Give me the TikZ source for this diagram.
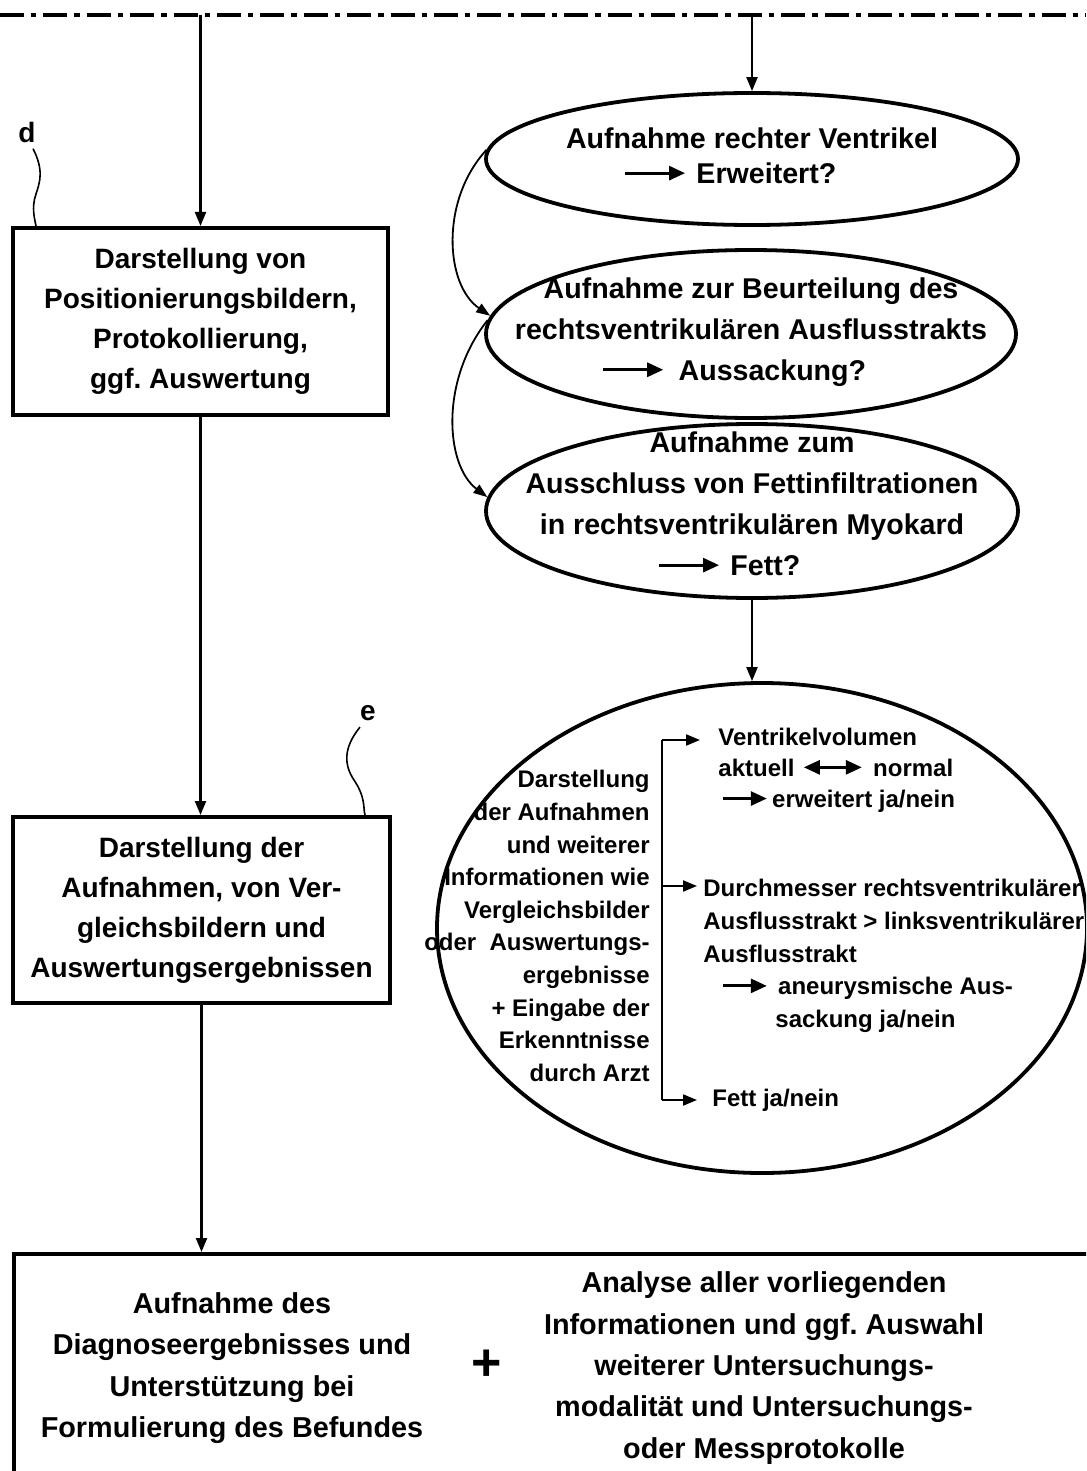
\documentclass[tikz,border=0pt]{standalone}
\usepackage{fontspec}
\setmainfont{Liberation Sans}
\usetikzlibrary{arrows.meta,shapes.geometric}

\newcommand{\pfeilr}[1][22pt]{\tikz[baseline=-0.7ex]\draw[line width=1.4pt,-{Triangle[length=8pt,width=7pt]}] (0,0) -- (#1,0);}
\newcommand{\pfeillr}{\tikz[baseline=-0.7ex]\draw[line width=1.4pt,{Triangle[length=8pt,width=7pt]}-{Triangle[length=8pt,width=7pt]}] (0,0) -- (29pt,0);}
\frenchspacing

\begin{document}
\begin{tikzpicture}[x=0.5pt, y=-0.5pt,
  kasten/.style={draw, line width=2pt, align=center, inner sep=0pt, font=\fontsize{14}{20}\selectfont\bfseries},
  oval/.style={draw, ellipse, line width=1.9pt, inner sep=0pt},
  otext/.style={align=center, inner sep=0pt, font=\fontsize{14.3}{20.5}\selectfont\bfseries},
  klein/.style={inner sep=0pt, font=\fontsize{12}{16.3}\selectfont\bfseries},
  btext/.style={align=center, inner sep=0pt, font=\fontsize{14.4}{20.7}\selectfont\bfseries},
  marke/.style={inner sep=1pt, font=\fontsize{14}{16}\selectfont\bfseries},
  pfeil/.style={line width=1.1pt, -{Triangle[length=7pt,width=5.5pt]}},
  bogen/.style={line width=0.9pt, -{Triangle[length=7pt,width=5pt]}},
  leiter/.style={line width=0.8pt},
  strichpunkt/.style={line width=1.7pt, dash pattern=on 12pt off 3.5pt on 2.7pt off 3.5pt}]
  \useasboundingbox (0,0) rectangle (1086,1471);
  \clip (0,0) rectangle (1086,1471);

  \coordinate (oben) at (0,15);
  \draw[strichpunkt] (oben) -- (1086,15);

  \node[kasten, minimum width=187.5pt, minimum height=93.5pt] (darst) at (200.5,321.5) {Darstellung von\\Positionierungsbildern,\\Protokollierung,\\ggf. Auswertung};
  \node[kasten, minimum width=188.5pt, minimum height=93pt] (anzeige) at (201.5,910) {Darstellung der\\Aufnahmen, von Ver-\\gleichsbildern und\\Auswertungsergebnissen};
  \node[kasten, anchor=north west, minimum width=560pt, minimum height=130pt] (befund) at (12,1252) {};

  \node[marke] (ld) at (27,132) {d};
  \node[marke] (le) at (368,713) {e};
  \draw[leiter] ([xshift=3pt,yshift=-2pt]ld.south) .. controls (44,170) and (40,182) .. (36,194) .. controls (31,208) and (35,220) .. ([xshift=12.5pt]darst.north west);
  \draw[leiter] ([xshift=-4pt,yshift=-2pt]le.south) .. controls (343,748) and (344,765) .. (354,780) .. controls (366,798) and (363,808) .. ([xshift=-13.5pt]anzeige.north east);

  \node[oval, minimum width=266pt, minimum height=66pt] (rv1) at (752,159) {};
  \node[otext] (rv1t) at (752,156) {Aufnahme rechter Ventrikel\\[-3pt]\hspace*{-22pt}\pfeilr[30pt]\hspace{5pt}Erweitert?};
  \node[oval, minimum width=265pt, minimum height=84pt] (rv2) at (751,334) {};
  \node[otext] (rv2t) at (751,332) {Aufnahme zur Beurteilung des\\rechtsventrikulären Ausflusstrakts\\\hspace*{-17pt}\pfeilr[30pt]\hspace{7pt}Aussackung?};
  \node[oval, minimum width=266pt, minimum height=87pt] (rv3) at (752,511) {};
  \node[otext] (rv3t) at (752,504) {Aufnahme zum\\Ausschluss von Fettinfiltrationen\\in rechtsventrikulären Myokard\\\hspace*{-23pt}\pfeilr[30pt]\hspace{5pt}Fett?};

  \node[oval, minimum width=325pt, minimum height=245pt] (bewert) at (762,928) {};
  \node[klein, align=right, anchor=east] (info) at (650,926) {Darstellung\\der Aufnahmen\\und weiterer\\Informationen wie\\Vergleichsbilder\\oder\ \ Auswertungs-\\ergebnisse\\+ Eingabe der\\Erkenntnisse\\durch Arzt};
  \node[klein, align=left, anchor=west] (vent) at (718,770) {Ventrikelvolumen\\[-0.7pt]aktuell\hspace{4pt}\pfeillr\hspace{5pt}normal\\[-0.7pt]\hspace{1.5pt}\pfeilr\hspace{2pt}erweitert ja/nein};
  \node[klein, align=left, anchor=west] (durch) at (703,956) {Durchmesser rechtsventrikulärer\\Ausflusstrakt > linksventrikulärer\\Ausflusstrakt\\\hspace{9pt}\pfeilr\hspace{5pt}aneurysmische Aus-\\\hspace{36pt}sackung ja/nein};
  \node[klein, anchor=west] (fett) at (712,1100) {Fett ja/nein};

  \coordinate (ko) at (662,740);
  \coordinate (km) at (662,886);
  \coordinate (ku) at (662,1100);
  \draw[line width=1.1pt] (ko) -- (ku);
  \draw[pfeil] (ko) -- ([xshift=-9pt]ko -| vent.west);
  \draw[pfeil] (km) -- ([xshift=-3pt]km -| durch.west);
  \draw[pfeil] (ku) -- ([xshift=-7.5pt]ku -| fett.west);

  \node[btext] (fazit) at (232,1368) {Aufnahme des\\Diagnoseergebnisses und\\Unterstützung bei\\Formulierung des Befundes};
  \node[inner sep=0pt, font=\fontsize{26}{26}\selectfont\bfseries] (plus) at (487,1365) {+};
  \node[btext] (analyse) at (764,1368) {Analyse aller vorliegenden\\Informationen und ggf. Auswahl\\weiterer Untersuchungs-\\modalität und Untersuchungs-\\oder Messprotokolle};

  \draw[pfeil] (darst.north |- oben) -- (darst.north);
  \draw[pfeil] (rv1.north |- oben) -- (rv1.north);
  \draw[pfeil] (darst.south) -- (darst.south |- anzeige.north);
  \draw[pfeil] (anzeige.south) -- (anzeige.south |- befund.north);
  \draw[pfeil] (rv3.south) -- (rv3.south |- bewert.north);
  \draw[bogen] (rv1.178) .. controls (440,200) and (445,285) .. (rv2.176);
  \draw[bogen] (rv2.177) .. controls (440,380) and (445,465) .. (rv3.177);
\end{tikzpicture}
\end{document}
